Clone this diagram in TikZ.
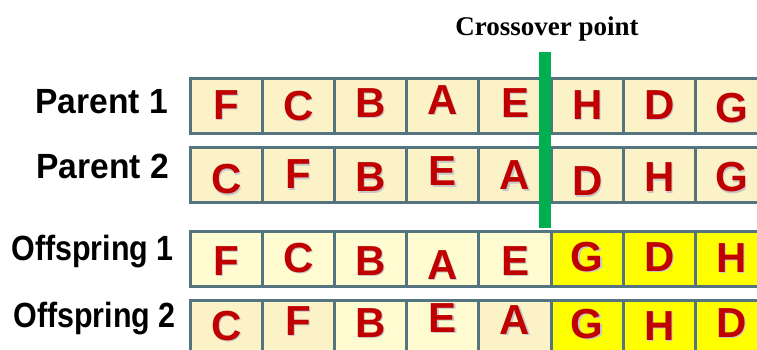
\documentclass[tikz,border=0pt]{standalone}
\usepackage{fontspec}
\setmainfont{Liberation Sans}
\newfontfamily\xofont{Liberation Serif}
\newfontfamily\parfont{Liberation Sans}[FakeStretch=0.96]
\newfontfamily\offfont{Liberation Sans}[FakeStretch=0.87]
\usepackage{tikz}
\usetikzlibrary{positioning,calc}
\definecolor{cellline}{RGB}{84,117,128}
\definecolor{creamfill}{RGB}{251,242,200}
\definecolor{paleyellow}{RGB}{255,252,210}
\definecolor{hotyellow}{RGB}{255,255,0}
\definecolor{genered}{RGB}{192,0,0}
\definecolor{cutgreen}{RGB}{0,176,80}
\newcommand{\dropltr}[1]{\makebox[0pt][l]{\hspace{1.2pt}\raisebox{-1.2pt}{\textcolor{black!22}{#1}}}#1}

\begin{document}
\begin{tikzpicture}[
  x=1pt, y=-1pt,
  cell/.style={rectangle, draw=cellline, line width=3pt, fill=creamfill,
               minimum width=72.2pt, minimum height=55pt,
               inner sep=0pt, outer sep=0pt},
  gene/.style={inner sep=0pt, text=genered,
               font=\fontsize{42}{42}\selectfont\bfseries},
  lbl/.style={anchor=base east, inner sep=0pt},
  parlbl/.style={lbl, font=\parfont\fontsize{35}{35}\selectfont\bfseries},
  offlbl/.style={lbl, font=\offfont\fontsize{35}{35}\selectfont\bfseries},
  xotext/.style={anchor=base, inner sep=0pt,
                 font=\fontsize{27}{27}\selectfont\xofont\bfseries},
  cutline/.style={draw=cutgreen, line width=12pt},
]
\clip (0,0) rectangle (757,349);

% Parent 1
\foreach \v/\i/\dy in {F/1/0,C/2/1,B/3/-2,A/4/-5,E/5/-2,H/6/0,D/7/0,G/8/3}{
  \node[cell] (par1-\i) at (154+72.2*\i, 105.5) {};
  \node[gene, yshift=-\dy pt] (g-par1-\i) at (par1-\i) {\dropltr{\v}};
}
\node[parlbl] (lab-par1) at (168, 113) {Parent 1};

% Parent 2
\foreach \v/\i/\dy in {C/1/5,F/2/0,B/3/3,E/4/-3,A/5/1,D/6/7,H/7/3,G/8/3}{
  \node[cell] (par2-\i) at (154+72.2*\i, 175) {};
  \node[gene, yshift=-\dy pt] (g-par2-\i) at (par2-\i) {\dropltr{\v}};
}
\node[parlbl] (lab-par2) at (169, 178) {Parent 2};

% Offspring 1: head from parent 1, tail filled in order of parent 2
\foreach \v/\i/\dy/\f in {F/1/3/paleyellow,C/2/0/paleyellow,B/3/3/paleyellow,
    A/4/7/paleyellow,E/5/3/paleyellow,G/6/-1/hotyellow,D/7/-1/hotyellow,H/8/0/hotyellow}{
  \node[cell, fill=\f] (off1-\i) at (154+72.2*\i, 258.5) {};
  \node[gene, yshift=-\dy pt] (g-off1-\i) at (off1-\i) {\dropltr{\v}};
}
\node[offlbl] (lab-off1) at (174, 260) {Offspring 1};

% Offspring 2
\foreach \v/\i/\dy/\f in {C/1/-1/creamfill,F/2/-6/creamfill,B/3/-4/paleyellow,
    E/4/-9/paleyellow,A/5/-7/creamfill,G/6/-3/hotyellow,H/7/-1/hotyellow,D/8/-4/hotyellow}{
  \node[cell, fill=\f] (off2-\i) at (154+72.2*\i, 327.5) {};
  \node[gene, yshift=-\dy pt] (g-off2-\i) at (off2-\i) {\dropltr{\v}};
}
\node[offlbl] (lab-off2) at (176, 327) {Offspring 2};

% crossover marker
\node[xotext] (xo) at (547, 35) {Crossover point};
\coordinate (cut-top) at (545, 52);
\coordinate (cut-bot) at (545, 228);
\draw[cutline] (cut-top) -- (cut-bot);
\end{tikzpicture}
\end{document}
